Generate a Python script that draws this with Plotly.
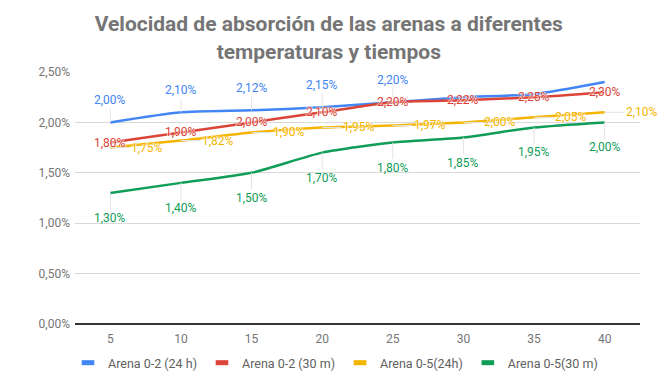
import plotly.graph_objects as go

x_vals = [5, 10, 15, 20, 25, 30, 35, 40]
arena_02_24h = [2.00, 2.10, 2.12, 2.15, 2.20, 2.25, 2.28, 2.40]
arena_02_30m = [1.80, 1.90, 2.00, 2.10, 2.20, 2.22, 2.25, 2.30]
arena_05_24h = [1.75, 1.82, 1.90, 1.95, 1.97, 2.00, 2.05, 2.10]
arena_05_30m = [1.30, 1.40, 1.50, 1.70, 1.80, 1.85, 1.95, 2.00]
# number of points that carry a data label
labels_shown = [5, 8, 8, 8]

names = ["Arena 0-2 (24 h)", "Arena 0-2 (30 m)", "Arena 0-5(24h)", "Arena 0-5(30 m)"]
series = [arena_02_24h, arena_02_30m, arena_05_24h, arena_05_30m]
colors = ["#4285F4", "#DB4437", "#F4B400", "#0F9D58"]
# label offsets (ax, ay) in px; None = centered on point, no leader line
offsets = [(0, -22), None, (37, 0), (0, 25)]

fig = go.Figure()
annotations = []

def fmt(v):
    return f"{v:.2f}".replace(".", ",") + "%"

for name, ys, col, off, nshow in zip(names, series, colors, offsets, labels_shown):
    fig.add_trace(go.Scatter(
        x=x_vals, y=ys, mode="lines", name=name,
        line=dict(color=col, width=2.5, shape="spline", smoothing=0.6),
        showlegend=False, hoverinfo="skip"))
    fig.add_trace(go.Scatter(
        x=[None], y=[None], mode="markers", name=name,
        marker=dict(symbol="line-ew", size=9, line=dict(color=col, width=5)),
        showlegend=True))
    for xv, yv in list(zip(x_vals, ys))[:nshow]:
        a = dict(x=xv, y=yv, xref="x", yref="y", text=fmt(yv),
                 font=dict(family="Roboto", size=12, color=col,
                           shadow="1px 0 1px #fff, -1px 0 1px #fff"))
        if off is None:
            a.update(showarrow=False)
        else:
            a.update(showarrow=True, ax=off[0], ay=off[1], arrowhead=0,
                     arrowwidth=1, arrowcolor="#e3e3e3", standoff=0)
        annotations.append(a)

fig.update_layout(
    width=671, height=377,
    paper_bgcolor="white", plot_bgcolor="white",
    separators=",.",
    margin=dict(l=75, r=31, t=72, b=53),
    font=dict(family="Roboto", size=12, color="#757575"),
    title=dict(
        text="Velocidad de absorción de las arenas a diferentes<br>temperaturas y tiempos",
        x=0.49, xref="container", xanchor="center",
        y=0.917, yref="container", yanchor="top",
        font=dict(family="Roboto", size=21, color="#757575", weight="bold")),
    xaxis=dict(range=[2.5, 42.5], tickvals=x_vals, showgrid=False, zeroline=False,
               showline=False, ticks="", ticklabelstandoff=6, automargin=False,
               tickfont=dict(size=12, color="#757575")),
    yaxis=dict(range=[0, 2.5], dtick=0.5, tickformat=".2f", ticksuffix="%",
               showgrid=True, gridcolor="#d9d9d9", gridwidth=1,
               zeroline=True, zerolinecolor="#333333", zerolinewidth=1.5,
               ticks="", ticklabelstandoff=4, automargin=False,
               tickfont=dict(size=12, color="#757575")),
    legend=dict(orientation="h", xref="container", yref="container",
                x=0.5, xanchor="center", y=0.037, yanchor="middle",
                font=dict(size=12.5, color="#616161"), itemwidth=30,
                tracegroupgap=0),
    annotations=annotations,
)

fig.write_html("out.html", config={"displayModeBar": False},
               post_script="document.body.style.margin='0px';")
